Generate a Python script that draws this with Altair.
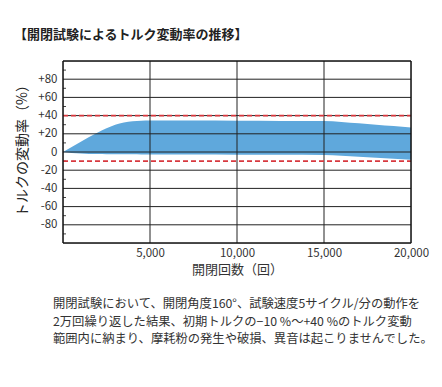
import altair as alt
import pandas as pd

# data
cycles = [0, 500, 1000, 1500, 2000, 2500, 3000, 3500, 4000, 4500, 5000, 7500, 10000,
          12500, 15000, 16000, 17000, 18000, 19000, 20000]
upper = [0, 5.5, 11, 16.5, 21.5, 26, 30, 32.5, 33.8, 34.3, 34.5, 34.5, 34.3,
         34.2, 34, 33, 31.5, 30, 28.5, 27]
lower = [0, -1, -1.7, -2.1, -2.3, -2.5, -2.5, -2.6, -2.6, -2.7, -2.7, -2.8, -2.9,
         -3, -3.2, -4.2, -5.3, -6.4, -7.5, -8.5]
limits = [40, -10]
y_ticks = [80, 60, 40, 20, 0, -20, -40, -60, -80]
y_minor = [90, 70, 50, 30, 10, -10, -30, -50, -70, -90]
y_frame = [100, -100]
x_ticks = [5000, 10000, 15000, 20000]
x_grid = [5000, 10000, 15000]
x_frame = [0, 20000]

title_text = "【開閉試験によるトルク変動率の推移】"
y_title = "トルクの変動率（%）"
x_title = "開閉回数（回）"
note_lines = [
    "開閉試験において、開閉角度160°、試験速度5サイクル/分の動作を",
    "2万回繰り返した結果、初期トルクの−10 %〜+40 %のトルク変動",
    "範囲内に納まり、摩耗粉の発生や破損、異音は起こりませんでした。",
]

FONT = "Noto Sans CJK JP"
W, H = 348, 182

band = pd.DataFrame({"x": cycles, "hi": upper, "lo": lower})
lim_df = pd.DataFrame({"y": limits})
minor_df = pd.DataFrame({"y": y_minor})
vgrid_df = pd.DataFrame({"x": x_grid})
hgrid_df = pd.DataFrame({"y": y_ticks})
yframe_df = pd.DataFrame({"y": y_frame})
xframe_df = pd.DataFrame({"x": x_frame})

xs = alt.Scale(domain=[0, 20000], nice=False)
ys = alt.Scale(domain=[-100, 100], nice=False)

label_expr = "datum.value > 0 ? '+' + datum.value : (datum.value == 0 ? '0' : '' + datum.value)"

xaxis = alt.Axis(values=x_ticks, format=",.0f", grid=False, ticks=False, domain=False,
                 labelFont=FONT, labelFontSize=11.5, labelColor="#333",
                 labelPadding=4, labelFlush=False, labelOverlap=False,
                 title=x_title, titleFont=FONT, titleFontSize=13,
                 titleFontWeight="normal", titleColor="#333",
                 titleX=174, titleY=26, titleAlign="center", titleBaseline="middle")
yaxis = alt.Axis(values=y_ticks, labelExpr=label_expr, grid=False, ticks=False,
                 domain=False, labelFont=FONT, labelFontSize=11.5, labelColor="#333",
                 labelPadding=6, labelOverlap=False,
                 title=y_title, titleFont=FONT, titleFontSize=14,
                 titleFontWeight="normal", titleColor="#222",
                 titleX=-41, titleY=86, titleAngle=-90,
                 titleAlign="center", titleBaseline="middle")

area = alt.Chart(band).mark_area(color="#5fa8dc", opacity=1, interpolate="monotone").encode(
    x=alt.X("x:Q", scale=xs, axis=xaxis),
    y=alt.Y("hi:Q", scale=ys, axis=yaxis),
    y2="lo:Q",
)

hgrid = alt.Chart(hgrid_df).mark_rule(color="#222", strokeWidth=1).encode(
    y=alt.Y("y:Q", scale=ys, axis=yaxis), x=alt.value(0), x2=alt.value(W))
vgrid = alt.Chart(vgrid_df).mark_rule(color="#222", strokeWidth=1).encode(
    x=alt.X("x:Q", scale=xs, axis=xaxis), y=alt.value(0), y2=alt.value(H))
minor = alt.Chart(minor_df).mark_rule(color="#444", strokeWidth=1).encode(
    y=alt.Y("y:Q", scale=ys, axis=yaxis), x=alt.value(0), x2=alt.value(3))
lims = alt.Chart(lim_df).mark_rule(color="#d8393f", strokeWidth=1.8, strokeDash=[5, 3]).encode(
    y=alt.Y("y:Q", scale=ys, axis=yaxis), x=alt.value(0), x2=alt.value(W))
hframe = alt.Chart(yframe_df).mark_rule(color="#111", strokeWidth=1.5).encode(
    y=alt.Y("y:Q", scale=ys, axis=yaxis), x=alt.value(0), x2=alt.value(W))
vframe = alt.Chart(xframe_df).mark_rule(color="#111", strokeWidth=1.5).encode(
    x=alt.X("x:Q", scale=xs, axis=xaxis), y=alt.value(0), y2=alt.value(H))

title = alt.Chart(pd.DataFrame({"t": [title_text]})).mark_text(
    font=FONT, fontSize=13, fontWeight="bold", color="#222", align="left", baseline="middle"
).encode(text="t:N", x=alt.value(-49), y=alt.value(-26))

note = alt.Chart(pd.DataFrame({"t": ["\n".join(note_lines)]})).mark_text(
    font=FONT, fontSize=12.3, color="#333", align="left", baseline="top",
    lineBreak="\n", lineHeight=17.5
).encode(text="t:N", x=alt.value(-10), y=alt.value(237))

chart = alt.layer(area, hgrid, vgrid, minor, lims, hframe, vframe, title, note).properties(
    width=W, height=H,
    autosize=alt.AutoSizeParams(type="none"),
    padding={"left": 55, "top": 53, "right": 23, "bottom": 130},
).configure_view(strokeWidth=0).configure(background="white")

chart.save("out.html", embed_options={"renderer": "svg", "actions": False})
